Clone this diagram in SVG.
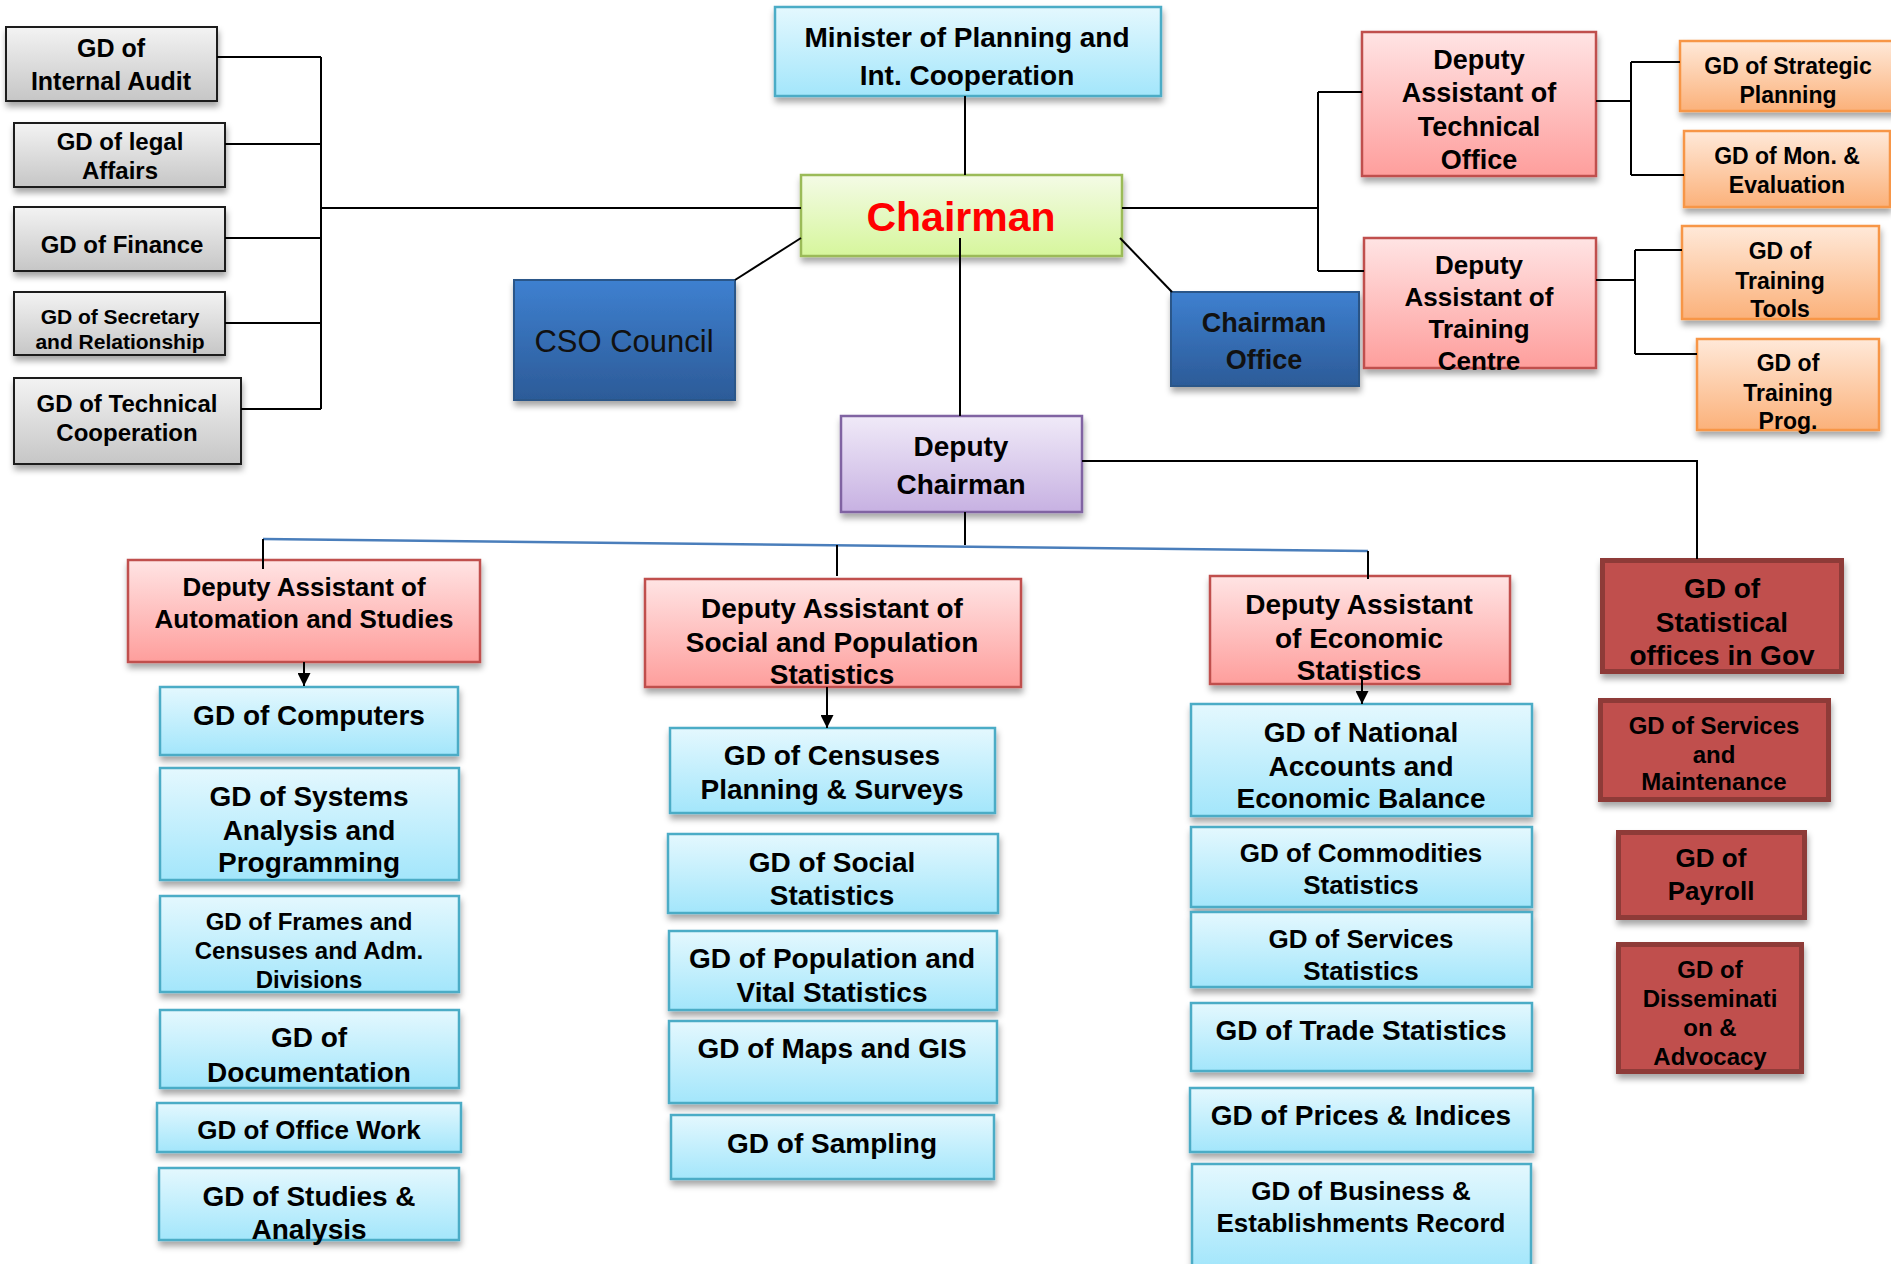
<svg xmlns="http://www.w3.org/2000/svg" width="1891" height="1264" viewBox="0 0 1891 1264">
<defs>
<linearGradient id="gGray" x1="0" y1="0" x2="0" y2="1"><stop offset="0" stop-color="#f3f3f3"/><stop offset="1" stop-color="#c6c6c6"/></linearGradient>
<linearGradient id="gBlue" x1="0" y1="0" x2="0" y2="1"><stop offset="0" stop-color="#e4f8fe"/><stop offset="1" stop-color="#a3e6fb"/></linearGradient>
<linearGradient id="gPink" x1="0" y1="0" x2="0" y2="1"><stop offset="0" stop-color="#ffe4e4"/><stop offset="1" stop-color="#fe9e9c"/></linearGradient>
<linearGradient id="gOrange" x1="0" y1="0" x2="0" y2="1"><stop offset="0" stop-color="#ffe9d9"/><stop offset="1" stop-color="#fbb17a"/></linearGradient>
<linearGradient id="gPurple" x1="0" y1="0" x2="0" y2="1"><stop offset="0" stop-color="#f0eaf8"/><stop offset="1" stop-color="#c7b1e2"/></linearGradient>
<linearGradient id="gGreen" x1="0" y1="0" x2="0" y2="1"><stop offset="0" stop-color="#f4fbe6"/><stop offset="1" stop-color="#d6f69c"/></linearGradient>
<linearGradient id="gDBlue" x1="0" y1="0" x2="0" y2="1"><stop offset="0" stop-color="#3e80d0"/><stop offset="1" stop-color="#2c5b98"/></linearGradient>
<filter id="sh" x="-10%" y="-10%" width="125%" height="135%">
<feDropShadow dx="1" dy="5" stdDeviation="3" flood-color="#000" flood-opacity="0.35"/>
</filter>
<marker id="arr" viewBox="0 0 10 10" refX="10" refY="5" markerWidth="16" markerHeight="13" orient="auto" markerUnits="userSpaceOnUse"><path d="M0,0 L10,5 L0,10 z" fill="#000"/></marker>
</defs>
<style>
text{font-family:"Liberation Sans",Arial,sans-serif;font-weight:bold;text-anchor:middle;dominant-baseline:central;fill:#000}
.gray{fill:url(#gGray);stroke:#1e1e1e;stroke-width:2;filter:url(#sh)}
.blue{fill:url(#gBlue);stroke:#4bacc6;stroke-width:2.5;filter:url(#sh)}
.pink{fill:url(#gPink);stroke:#c0504d;stroke-width:2.5;filter:url(#sh)}
.orange{fill:url(#gOrange);stroke:#f79646;stroke-width:2.5;filter:url(#sh)}
.purple{fill:url(#gPurple);stroke:#8064a2;stroke-width:2.5;filter:url(#sh)}
.green{fill:url(#gGreen);stroke:#9bbb59;stroke-width:2.5;filter:url(#sh)}
.dblue{fill:url(#gDBlue);stroke:#2a5689;stroke-width:2;filter:url(#sh)}
.dred{fill:#c0504d;stroke:#8e3a37;stroke-width:5;filter:url(#sh)}
.ln{stroke:#000;stroke-width:2;fill:none}
.bl{stroke:#4a7ebb;stroke-width:2.5;fill:none}
.f21{font-size:21px}.f23{font-size:23px}.f24{font-size:24px}.f25{font-size:25px}.f26{font-size:26px}.f27{font-size:27px}.f28{font-size:28px}
</style>
<rect width="1891" height="1264" fill="#fff"/>

<!-- Left gray nodes -->
<g id="gd-internal-audit"><rect class="gray" x="6" y="27" width="211" height="74"/>
<text class="f25" x="111" y="48">GD of</text><text class="f25" x="111" y="81">Internal Audit</text></g>
<g id="gd-legal"><rect class="gray" x="14" y="123" width="211" height="64"/>
<text class="f24" x="120" y="141">GD of legal</text><text class="f24" x="120" y="170">Affairs</text></g>
<g id="gd-finance"><rect class="gray" x="14" y="207" width="211" height="64"/>
<text class="f24" x="122" y="244">GD of Finance</text></g>
<g id="gd-secretary"><rect class="gray" x="14" y="292" width="211" height="63"/>
<text class="f21" x="120" y="316">GD of Secretary</text><text class="f21" x="120" y="341">and Relationship</text></g>
<g id="gd-tech-coop"><rect class="gray" x="14" y="378" width="227" height="86"/>
<text class="f24" x="127" y="403">GD of Technical</text><text class="f24" x="127" y="432">Cooperation</text></g>

<!-- Top center -->
<g id="minister"><rect class="blue" x="775" y="7" width="386" height="89"/>
<text class="f28" x="967" y="37">Minister of Planning and</text><text class="f28" x="967" y="75">Int. Cooperation</text></g>
<g id="chairman"><rect class="green" x="801" y="175" width="321" height="81"/>
<text x="961" y="217" style="font-size:41px;fill:#ff0000">Chairman</text></g>
<g id="cso-council"><rect class="dblue" x="514" y="280" width="221" height="120"/>
<text x="624" y="341" style="font-size:31px;font-weight:normal;fill:#111">CSO Council</text></g>
<g id="chairman-office"><rect class="dblue" x="1171" y="292" width="188" height="94"/>
<text class="f27" x="1264" y="323" style="fill:#111">Chairman</text><text class="f27" x="1264" y="360" style="fill:#111">Office</text></g>

<!-- Right top -->
<g id="da-technical-office"><rect class="pink" x="1362" y="32" width="234" height="144"/>
<text class="f27" x="1479" y="60">Deputy</text><text class="f27" x="1479" y="93">Assistant of</text><text class="f27" x="1479" y="127">Technical</text><text class="f27" x="1479" y="160">Office</text></g>
<g id="da-training-centre"><rect class="pink" x="1364" y="238" width="232" height="130"/>
<text class="f26" x="1479" y="265">Deputy</text><text class="f26" x="1479" y="297">Assistant of</text><text class="f26" x="1479" y="329">Training</text><text class="f26" x="1479" y="361">Centre</text></g>
<g id="gd-strategic"><rect class="orange" x="1680" y="41" width="220" height="70"/>
<text class="f23" x="1788" y="66">GD of Strategic</text><text class="f23" x="1788" y="95">Planning</text></g>
<g id="gd-mon-eval"><rect class="orange" x="1684" y="131" width="206" height="76"/>
<text class="f23" x="1787" y="156">GD of Mon. &amp;</text><text class="f23" x="1787" y="185">Evaluation</text></g>
<g id="gd-training-tools"><rect class="orange" x="1682" y="226" width="197" height="93"/>
<text class="f23" x="1780" y="251">GD of</text><text class="f23" x="1780" y="281">Training</text><text class="f23" x="1780" y="309">Tools</text></g>
<g id="gd-training-prog"><rect class="orange" x="1697" y="339" width="182" height="91"/>
<text class="f23" x="1788" y="363">GD of</text><text class="f23" x="1788" y="393">Training</text><text class="f23" x="1788" y="421">Prog.</text></g>

<!-- Deputy chairman -->
<g id="deputy-chairman"><rect class="purple" x="841" y="416" width="241" height="96"/>
<text class="f28" x="961" y="446">Deputy</text><text class="f28" x="961" y="484">Chairman</text></g>

<!-- Deputy assistants -->
<g id="da-automation"><rect class="pink" x="128" y="560" width="352" height="102"/>
<text class="f26" x="304" y="587">Deputy Assistant of</text><text class="f26" x="304" y="619">Automation and Studies</text></g>
<g id="da-social"><rect class="pink" x="645" y="579" width="376" height="108"/>
<text class="f28" x="832" y="608">Deputy Assistant of</text><text class="f28" x="832" y="642">Social and Population</text><text class="f28" x="832" y="674">Statistics</text></g>
<g id="da-economic"><rect class="pink" x="1210" y="576" width="300" height="108"/>
<text class="f28" x="1359" y="604">Deputy Assistant</text><text class="f28" x="1359" y="638">of Economic</text><text class="f28" x="1359" y="670">Statistics</text></g>

<!-- Automation column -->
<g id="gd-computers"><rect class="blue" x="160" y="687" width="298" height="68"/>
<text class="f28" x="309" y="715">GD of Computers</text></g>
<g id="gd-systems"><rect class="blue" x="160" y="768" width="299" height="112"/>
<text class="f28" x="309" y="796">GD of Systems</text><text class="f28" x="309" y="830">Analysis and</text><text class="f28" x="309" y="862">Programming</text></g>
<g id="gd-frames"><rect class="blue" x="160" y="896" width="299" height="96"/>
<text class="f24" x="309" y="921">GD of Frames and</text><text class="f24" x="309" y="950">Censuses and Adm.</text><text class="f24" x="309" y="979">Divisions</text></g>
<g id="gd-documentation"><rect class="blue" x="160" y="1010" width="299" height="78"/>
<text class="f28" x="309" y="1037">GD of</text><text class="f28" x="309" y="1072">Documentation</text></g>
<g id="gd-office-work"><rect class="blue" x="157" y="1103" width="304" height="49"/>
<text class="f26" x="309" y="1130">GD of Office Work</text></g>
<g id="gd-studies"><rect class="blue" x="159" y="1168" width="300" height="72"/>
<text class="f28" x="309" y="1196">GD of Studies &amp;</text><text class="f28" x="309" y="1229">Analysis</text></g>

<!-- Social column -->
<g id="gd-censuses"><rect class="blue" x="670" y="728" width="325" height="85"/>
<text class="f28" x="832" y="755">GD of Censuses</text><text class="f28" x="832" y="789">Planning &amp; Surveys</text></g>
<g id="gd-social-stats"><rect class="blue" x="668" y="834" width="330" height="79"/>
<text class="f28" x="832" y="862">GD of Social</text><text class="f28" x="832" y="895">Statistics</text></g>
<g id="gd-population"><rect class="blue" x="669" y="931" width="328" height="79"/>
<text class="f28" x="832" y="958">GD of Population and</text><text class="f28" x="832" y="992">Vital Statistics</text></g>
<g id="gd-maps"><rect class="blue" x="669" y="1021" width="328" height="82"/>
<text class="f28" x="832" y="1048">GD of Maps and GIS</text></g>
<g id="gd-sampling"><rect class="blue" x="671" y="1115" width="323" height="64"/>
<text class="f28" x="832" y="1143">GD of Sampling</text></g>

<!-- Economic column -->
<g id="gd-national-accounts"><rect class="blue" x="1191" y="704" width="341" height="112"/>
<text class="f28" x="1361" y="732">GD of National</text><text class="f28" x="1361" y="766">Accounts and</text><text class="f28" x="1361" y="798">Economic Balance</text></g>
<g id="gd-commodities"><rect class="blue" x="1191" y="827" width="341" height="80"/>
<text class="f26" x="1361" y="853">GD of Commodities</text><text class="f26" x="1361" y="885">Statistics</text></g>
<g id="gd-services-stats"><rect class="blue" x="1191" y="912" width="341" height="75"/>
<text class="f26" x="1361" y="939">GD of Services</text><text class="f26" x="1361" y="971">Statistics</text></g>
<g id="gd-trade"><rect class="blue" x="1191" y="1003" width="341" height="68"/>
<text class="f28" x="1361" y="1030">GD of Trade Statistics</text></g>
<g id="gd-prices"><rect class="blue" x="1190" y="1088" width="343" height="64"/>
<text class="f28" x="1361" y="1115">GD of Prices &amp; Indices</text></g>
<g id="gd-business"><rect class="blue" x="1192" y="1164" width="339" height="104"/>
<text class="f26" x="1361" y="1191">GD of Business &amp;</text><text class="f26" x="1361" y="1223">Establishments Record</text></g>

<!-- Dark red column -->
<g id="gd-stat-offices"><rect class="dred" x="1602.5" y="560.5" width="239" height="111"/>
<text class="f28" x="1722" y="588">GD of</text><text class="f28" x="1722" y="622">Statistical</text><text class="f28" x="1722" y="655">offices in Gov</text></g>
<g id="gd-services-maint"><rect class="dred" x="1600.5" y="700.5" width="228" height="99"/>
<text class="f24" x="1714" y="725">GD of Services</text><text class="f24" x="1714" y="754">and</text><text class="f24" x="1714" y="781">Maintenance</text></g>
<g id="gd-payroll"><rect class="dred" x="1618.5" y="832.5" width="186" height="85"/>
<text class="f26" x="1711" y="858">GD of</text><text class="f26" x="1711" y="891">Payroll</text></g>
<g id="gd-dissemination"><rect class="dred" x="1618.5" y="944.5" width="183" height="127"/>
<text class="f24" x="1710" y="969">GD of</text><text class="f24" x="1710" y="998">Disseminati</text><text class="f24" x="1710" y="1027">on &amp;</text><text class="f24" x="1710" y="1056">Advocacy</text></g>

<!-- Connectors -->
<g id="connectors">
<path class="ln" d="M217,57 H321 M225,144 H321 M225,238 H321 M225,323 H321 M241,409 H321 M321,57 V409 M321,208 H801"/>
<path class="ln" d="M965,96 V175"/>
<path class="ln" d="M801,238 L735,280"/>
<path class="ln" d="M1120,238 L1172,292"/>
<path class="ln" d="M1122,208 H1318 M1318,92 V271 M1318,92 H1362 M1318,271 H1364"/>
<path class="ln" d="M1596,101 H1631 M1631,62 V175 M1631,62 H1680 M1631,175 H1684"/>
<path class="ln" d="M1596,280 H1635 M1635,250 V354 M1635,250 H1682 M1635,354 H1697"/>
<path class="ln" d="M960,238 V416"/>
<path class="ln" d="M1082,461 H1697 V559"/>
<path class="ln" d="M965,512 V545"/>
<path class="bl" d="M263,539 L1368,551"/>
<path class="ln" d="M263,539 V569 M837,545 V576 M1368,551 V579"/>
<path class="ln" marker-end="url(#arr)" d="M304,662 V686"/>
<path class="ln" marker-end="url(#arr)" d="M827,687 V728"/>
<path class="ln" marker-end="url(#arr)" d="M1362,678 V704"/>
</g>
</svg>
